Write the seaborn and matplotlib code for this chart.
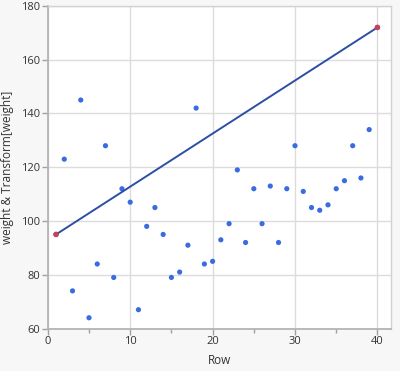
import matplotlib
matplotlib.use("Agg")
import matplotlib.pyplot as plt
import seaborn as sns
import pandas as pd
import numpy as np
from matplotlib.ticker import MultipleLocator

rows = list(range(1, 41))
weight = [95, 123, 74, 145, 64, 84, 128, 79, 112, 107,
          67, 98, 105, 95, 79, 81, 91, 142, 84, 85,
          93, 99, 119, 92, 112, 99, 113, 92, 112, 128,
          111, 105, 104, 106, 112, 115, 128, 116, 134, 172]
transform_rows = [1, 40]
transform_vals = [95, 172]

df = pd.DataFrame({"Row": rows, "weight": weight})
dt = pd.DataFrame({"Row": transform_rows, "val": transform_vals})

sns.set_theme(style="white")
plt.rcParams['font.family'] = ['Open Sans', 'DejaVu Sans']

fig = plt.figure(figsize=(4.0, 3.71), dpi=100, facecolor="#f7f7f7")
ax = fig.add_axes([0.1195, 0.1145, 0.857, 0.8695])
ax.set_facecolor("white")

ax.grid(True, color="#dcdcdc", linewidth=1.0, zorder=0)
ax.set_axisbelow(True)

sns.scatterplot(data=df, x="Row", y="weight", ax=ax, color="#3a6be0",
                s=14, edgecolor="none", zorder=3, legend=False)
sns.lineplot(data=dt, x="Row", y="val", ax=ax, color="#2c4ea3",
             linewidth=1.4, zorder=4, legend=False)
sns.scatterplot(data=dt, x="Row", y="val", ax=ax, color="#c8405e",
                s=16, edgecolor="none", zorder=5, legend=False)

ax.set_xlim(0, 41.6)
ax.set_ylim(60, 180)
ax.xaxis.set_major_locator(MultipleLocator(10))
ax.xaxis.set_minor_locator(MultipleLocator(5))
ax.yaxis.set_major_locator(MultipleLocator(20))

for side in ["left", "bottom"]:
    ax.spines[side].set_color("#b4b4b4")
    ax.spines[side].set_linewidth(1.3)
for side in ["top", "right"]:
    ax.spines[side].set_color("#d2d2d2")
    ax.spines[side].set_linewidth(1.0)

ax.tick_params(axis="both", which="major", direction="out", length=4,
               width=1, color="#a0a0a0", labelsize=8, labelcolor="#333333",
               pad=1.5, left=True, bottom=True)
ax.tick_params(axis="x", which="minor", direction="out", length=3,
               width=1, color="#a0a0a0", bottom=True)

ax.set_xlabel("Row", fontsize=8.5, color="#333333", labelpad=5)
ax.set_ylabel("weight & Transform[weight]", fontsize=8.5, color="#333333",
              labelpad=5)

fig.savefig("out.png", dpi=100, facecolor=fig.get_facecolor())
